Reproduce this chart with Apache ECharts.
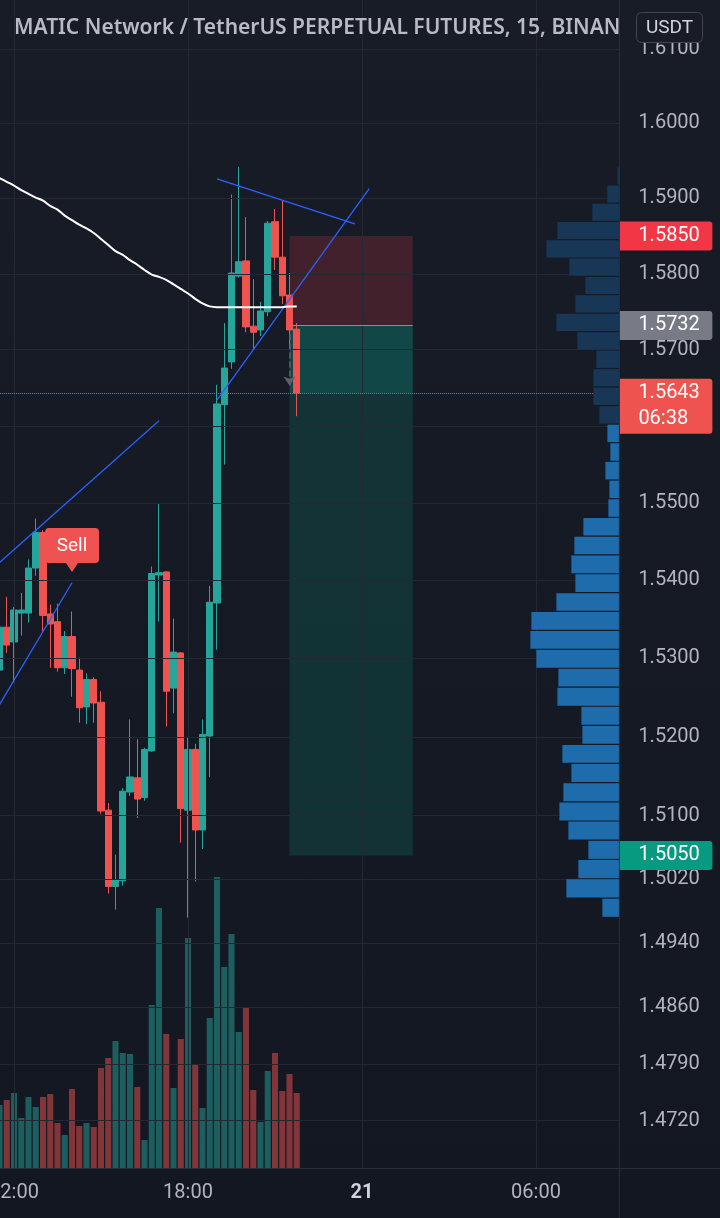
<!DOCTYPE html>
<html>
<head>
<meta charset="utf-8">
<title>MATICUSDT PERP 15</title>
<script src="https://cdn.jsdelivr.net/npm/echarts@6/dist/echarts.min.js"></script>
<style>
  html, body { margin: 0; padding: 0; background: #131722; }
  #chart { width: 720px; height: 1218px; }
</style>
</head>
<body>
<div id="chart"></div>
<script>
// 15m bars starting 11:30, [open, close, low, high]
const candles = [
  [1.5285, 1.5340, 1.5238, 1.5365], [1.5340, 1.5317, 1.5307, 1.5379], [1.5321, 1.5362, 1.5269, 1.5366],
  [1.5358, 1.5362, 1.5329, 1.5384], [1.5358, 1.5416, 1.5346, 1.5427], [1.5416, 1.5462, 1.5406, 1.5480],
  [1.5462, 1.5355, 1.5334, 1.5465], [1.5357, 1.5344, 1.5288, 1.5369], [1.5347, 1.5288, 1.5283, 1.5370],
  [1.5288, 1.5328, 1.5280, 1.5335], [1.5328, 1.5287, 1.5251, 1.5360], [1.5285, 1.5237, 1.5218, 1.5301],
  [1.5238, 1.5273, 1.5216, 1.5281], [1.5273, 1.5243, 1.5218, 1.5276], [1.5244, 1.5106, 1.5102, 1.5258],
  [1.5107, 1.5011, 1.5002, 1.5116], [1.5011, 1.5019, 1.4982, 1.5051], [1.5018, 1.5131, 1.5012, 1.5135],
  [1.5130, 1.5149, 1.5125, 1.5222], [1.5148, 1.5121, 1.5097, 1.5197], [1.5123, 1.5184, 1.5119, 1.5186],
  [1.5182, 1.5409, 1.5181, 1.5418], [1.5407, 1.5410, 1.5347, 1.5500], [1.5411, 1.5258, 1.5213, 1.5412],
  [1.5262, 1.5308, 1.5230, 1.5351], [1.5307, 1.5109, 1.5066, 1.5308], [1.5107, 1.5184, 1.4972, 1.5199],
  [1.5184, 1.5082, 1.5017, 1.5191], [1.5082, 1.5203, 1.5058, 1.5222], [1.5201, 1.5372, 1.5149, 1.5393],
  [1.5371, 1.5629, 1.5311, 1.5654], [1.5628, 1.5676, 1.5550, 1.5735], [1.5684, 1.5801, 1.5675, 1.5905],
  [1.5797, 1.5816, 1.5795, 1.5942], [1.5817, 1.5730, 1.5723, 1.5875], [1.5731, 1.5723, 1.5701, 1.5793],
  [1.5726, 1.5751, 1.5718, 1.5763], [1.5750, 1.5867, 1.5744, 1.5870], [1.5869, 1.5822, 1.5805, 1.5886],
  [1.5822, 1.5771, 1.5760, 1.5897], [1.5772, 1.5726, 1.5701, 1.5801], [1.5727, 1.5643, 1.5613, 1.5735]
];
const volumes = [63, 68, 75, 50, 71, 61, 71, 74, 45, 33, 79, 42, 45, 41, 100, 110, 127, 115, 114, 81, 28,
  163, 260, 134, 80, 129, 230, 104, 60, 150, 291, 201, 234, 136, 161, 78, 46, 97, 115, 77, 94, 75];
const maValues = [1.5927, 1.5922, 1.5917, 1.5911, 1.5906, 1.5901, 1.5897, 1.5890, 1.5885, 1.5877, 1.5871,
  1.5865, 1.5860, 1.5854, 1.5846, 1.5838, 1.5830, 1.5825, 1.5818, 1.5812, 1.5805, 1.5799, 1.5796, 1.5792,
  1.5786, 1.5780, 1.5774, 1.5767, 1.5761, 1.5757, 1.5756, 1.5756, 1.5756, 1.5756, 1.5756, 1.5756, 1.5756,
  1.5756, 1.5756, 1.5756, 1.5757, 1.5757];
const priceTicks = [1.61, 1.60, 1.59, 1.58, 1.57, 1.56, 1.55, 1.54, 1.53, 1.52, 1.51, 1.502, 1.494, 1.486, 1.479, 1.472];
const hiddenTicks = [1.56];
const timeGrid = ['12:00', '18:00', '00:00', '06:00'];
// visible range volume profile, bottom bin first
const profileVolumes = [17, 53, 41, 31, 51, 60, 56, 48, 57, 37, 38, 62, 61, 83, 89, 88, 63, 44, 48, 45,
  36, 11, 10, 14, 9, 12, 20, 26, 26, 23, 42, 63, 44, 34, 50, 73, 62, 27, 12, 2];
const profileLow = 1.4972, profileHigh = 1.5942, valueAreaHigh = 1.5603;
// short position tool
const stopPrice = 1.5850, entryPrice = 1.5732, lastPrice = 1.5643, targetPrice = 1.5050;
const trendLines = [
  [[0, 1.5423], [22, 1.5607]],
  [[0, 1.5241], [10, 1.5397]],
  [[30, 1.5634], [51, 1.5913]],
  [[30, 1.5926], [49, 1.5866]]
];

const L = Math.log;
const startMin = 11 * 60 + 30;
const categories = [];
for (let i = 0; i < 86; i++) {
  const m = (startMin + 15 * i) % 1440;
  categories.push(String(Math.floor(m / 60)).padStart(2, '0') + ':' + String(m % 60).padStart(2, '0'));
}
const yMin = L(1.46617), yMax = L(1.61659);
const gridBox = { left: -4.125, width: 623.5, top: 0, bottom: 50, outerBoundsMode: 'none', containLabel: false };
const axisRight = gridBox.left + gridBox.width;

const tags = [
  { price: stopPrice, text: ['1.5850'], color: '#f23645' },
  { price: entryPrice, text: ['1.5732'], color: '#787b86' },
  { price: targetPrice, text: ['1.5050'], color: '#089981' },
  { price: lastPrice, text: ['1.5643', '06:38'], color: '#ef5350' }
];

const chart = echarts.init(document.getElementById('chart'));
chart.setOption({
  animation: false,
  backgroundColor: {
    type: 'linear', x: 0, y: 0, x2: 0, y2: 1,
    colorStops: [{ offset: 0, color: '#181c27' }, { offset: 1, color: '#131722' }]
  },
  title: {
    text: 'MATIC Network / TetherUS PERPETUAL FUTURES, 15, BINAN',
    left: 14, top: 18, padding: 0,
    textStyle: { color: '#b8bbc4', fontSize: 21, fontWeight: 600, fontFamily: 'Noto Sans' }
  },
  grid: [
    Object.assign({}, gridBox),
    Object.assign({}, gridBox, { top: 868 }),
    Object.assign({}, gridBox)
  ],
  xAxis: [
    {
      type: 'category', gridIndex: 0, data: categories, boundaryGap: true,
      axisLine: { show: false }, axisTick: { show: false }, splitLine: { show: false },
      axisLabel: {
        interval: (i, v) => timeGrid.indexOf(v) >= 0,
        formatter: v => v === '00:00' ? '{day|21}' : v,
        color: '#b2b5be', fontSize: 20, fontFamily: 'Roboto', margin: 15,
        rich: { day: { fontWeight: 'bold', color: '#d1d4dc', fontSize: 20, fontFamily: 'Roboto' } }
      }
    },
    { type: 'category', gridIndex: 1, data: categories, show: false },
    { type: 'value', gridIndex: 2, min: 0, max: gridBox.width, inverse: true, show: false }
  ],
  yAxis: [
    {
      type: 'value', gridIndex: 0, position: 'right', min: yMin, max: yMax, scale: true,
      axisLine: { show: false }, axisTick: { show: false }, splitLine: { show: false },
      axisLabel: {
        customValues: priceTicks.filter(p => hiddenTicks.indexOf(p) < 0).map(L),
        formatter: v => Math.exp(v).toFixed(4),
        color: '#b2b5be', fontSize: 20, fontFamily: 'Roboto', margin: 19
      }
    },
    { type: 'value', gridIndex: 1, min: 0, max: 300, show: false },
    { type: 'value', gridIndex: 2, min: yMin, max: yMax, show: false }
  ],
  graphic: [
    { type: 'line', shape: { x1: axisRight, y1: 0, x2: axisRight, y2: 1218 }, style: { stroke: '#2a2e39', lineWidth: 1 }, z: 20 },
    { type: 'line', shape: { x1: 0, y1: 1168.5, x2: 720, y2: 1168.5 }, style: { stroke: '#2a2e39', lineWidth: 1 }, z: 20 },
    { type: 'rect', shape: { x: 636.5, y: 12.5, width: 66, height: 30, r: 5 }, style: { fill: '#181c27', stroke: '#434651', lineWidth: 1 }, z: 30 },
    { type: 'text', x: 669.5, y: 28, style: { text: 'USDT', fill: '#d1d4dc', fontSize: 19, fontFamily: 'Roboto', align: 'center', verticalAlign: 'middle' }, z: 31 }
  ],
  series: [
    {
      name: 'grid', type: 'line', xAxisIndex: 0, yAxisIndex: 0, data: [], z: 0, silent: true,
      markLine: {
        silent: true, symbol: 'none', label: { show: false }, precision: 10,
        lineStyle: { color: '#242833', width: 1, type: 'solid' },
        data: priceTicks.map(p => ({ yAxis: L(p) })).concat(timeGrid.map(t => ({ xAxis: t })))
      }
    },
    {
      name: 'Volume', type: 'bar', xAxisIndex: 1, yAxisIndex: 1, barWidth: '84%', z: 1,
      data: volumes.map((v, i) => ({
        value: v,
        itemStyle: { color: candles[i][1] >= candles[i][0] ? 'rgba(38,166,154,0.5)' : 'rgba(239,83,80,0.5)' }
      }))
    },
    {
      name: 'trend', type: 'line', xAxisIndex: 0, yAxisIndex: 0, data: [], z: 2, silent: true,
      markLine: {
        silent: true, symbol: 'none', label: { show: false }, precision: 10,
        lineStyle: { color: '#2962ff', width: 1.3, type: 'solid' },
        data: trendLines.map(seg => seg.map(pt => ({ coord: [categories[pt[0]], L(pt[1])] })))
      }
    },
    {
      name: 'position', type: 'line', xAxisIndex: 0, yAxisIndex: 0, data: [], z: 3, silent: true,
      markArea: {
        silent: true,
        data: [
          [{ coord: [categories[40], L(stopPrice)], itemStyle: { color: 'rgba(242,54,69,0.2)' } }, { coord: [categories[57], L(entryPrice)] }],
          [{ coord: [categories[40], L(entryPrice)], itemStyle: { color: 'rgba(8,153,129,0.36)' } }, { coord: [categories[57], L(lastPrice)] }],
          [{ coord: [categories[40], L(lastPrice)], itemStyle: { color: 'rgba(8,153,129,0.2)' } }, { coord: [categories[57], L(targetPrice)] }]
        ]
      },
      markLine: {
        silent: true, symbol: 'none', label: { show: false }, precision: 10,
        data: [
          [{ coord: [categories[40], L(entryPrice)], lineStyle: { color: '#8a8d97', width: 1, type: 'solid' } }, { coord: [categories[57], L(entryPrice)] }],
          [{ coord: [categories[40], L(1.5720)], lineStyle: { color: '#5d606b', width: 1.5, type: 'dashed' } },
           { coord: [categories[40], L(1.5653)], symbol: 'arrow', symbolSize: 9 }]
        ]
      }
    },
    {
      name: 'MATICUSDT', type: 'candlestick', xAxisIndex: 0, yAxisIndex: 0, z: 4, barWidth: '92%',
      data: candles.map(c => c.map(L)),
      itemStyle: { color: '#26a69a', color0: '#ef5350', borderColor: '#26a69a', borderColor0: '#ef5350', borderWidth: 1 },
      markLine: {
        silent: true, symbol: 'none', label: { show: false }, precision: 10,
        data: [{ yAxis: L(lastPrice), lineStyle: { color: '#ef5350', type: 'dotted', width: 1 } }]
      },
      markPoint: {
        silent: true,
        symbol: 'path://M4,0H50Q54,0,54,4V31Q54,35,50,35H33L27,44L21,35H4Q0,35,0,31V4Q0,0,4,0Z',
        symbolSize: [54, 44], symbolOffset: [0, '-50%'],
        itemStyle: { color: '#f05252' },
        label: { show: true, formatter: 'Sell', color: '#ffffff', fontSize: 19, fontFamily: 'Roboto', offset: [0, -4] },
        data: [{ coord: [categories[10], L(1.5411)] }]
      }
    },
    {
      name: 'MA', type: 'line', xAxisIndex: 0, yAxisIndex: 0, z: 5, smooth: 0.3, symbol: 'none',
      data: maValues.map(L),
      lineStyle: { color: '#ffffff', width: 2 }
    },
    {
      name: 'VRVP', type: 'custom', xAxisIndex: 2, yAxisIndex: 2, z: 6, silent: true,
      data: profileVolumes.map((v, k) => {
        const step = (profileHigh - profileLow) / profileVolumes.length;
        return [v, L(profileLow + k * step), L(profileLow + (k + 1) * step), profileLow + (k + 1) * step];
      }),
      renderItem: (params, api) => {
        const hiPt = api.coord([0, api.value(2)]);
        const loPt = api.coord([api.value(0), api.value(1)]);
        const inVA = api.value(3) <= valueAreaHigh + 1e-6;
        return {
          type: 'rect',
          shape: { x: loPt[0], y: hiPt[1] + 0.5, width: hiPt[0] - loPt[0], height: loPt[1] - hiPt[1] - 1.2 },
          style: { fill: inVA ? '#1e6cab' : '#183757' }
        };
      }
    },
    {
      name: 'tags', type: 'custom', xAxisIndex: 0, yAxisIndex: 0, z: 10, silent: true,
      data: tags.map(t => [0, L(t.price)]),
      renderItem: (params, api) => {
        const t = tags[params.dataIndex];
        const y = api.coord([0, api.value(1)])[1];
        const x0 = params.coordSys.x + params.coordSys.width;
        const h = 29 + (t.text.length - 1) * 26;
        const children = [{
          type: 'rect', shape: { x: x0, y: y - 14.5, width: 93, height: h, r: [0, 3, 3, 0] },
          style: { fill: t.color }
        }];
        t.text.forEach((s, j) => children.push({
          type: 'text', x: x0 + 19, y: y + j * 26,
          style: { text: s, fill: '#ffffff', fontSize: 20, fontFamily: 'Roboto', align: 'left', verticalAlign: 'middle' }
        }));
        return { type: 'group', children: children };
      }
    }
  ]
});
</script>
</body>
</html>
